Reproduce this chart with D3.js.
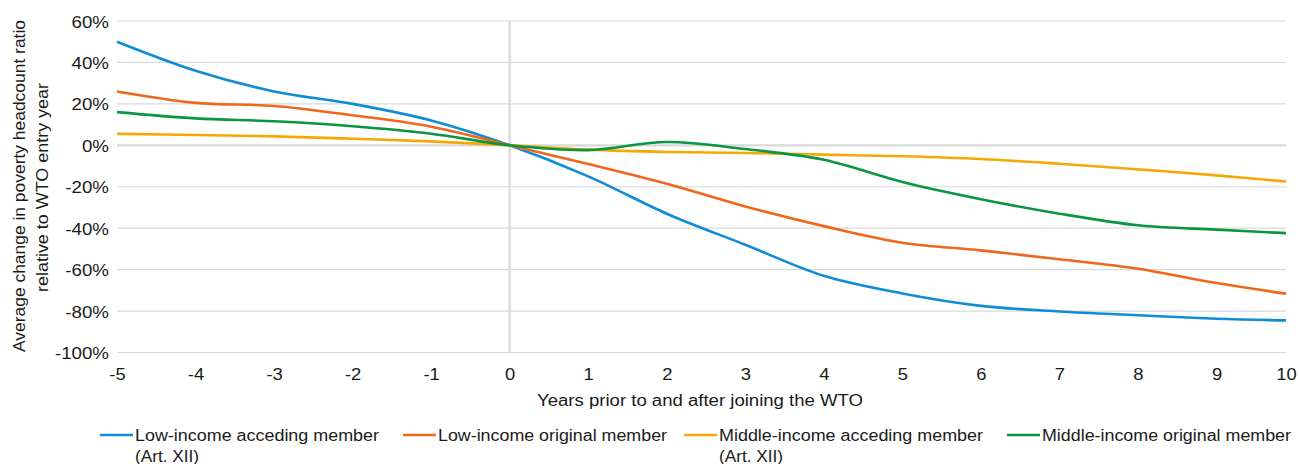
<!DOCTYPE html>
<html>
<head>
<meta charset="utf-8">
<script src="https://cdn.jsdelivr.net/npm/d3@7"></script>
<style>
  html, body { margin: 0; padding: 0; background: #fff; }
  svg { display: block; font-family: "Liberation Sans", Arial, Helvetica, sans-serif; }
</style>
</head>
<body>
<svg id="chart" width="1299" height="464"></svg>
<script>
// ---- data ----
const years = [-5, -4, -3, -2, -1, 0, 1, 2, 3, 4, 5, 6, 7, 8, 9, 10];
const lowIncomeAcceding = [50, 36, 26, 20, 12, 0, -15, -33, -48, -63, -71.5, -77.5, -80.2, -82, -83.7, -84.5];
const lowIncomeOriginal = [26, 20.5, 19, 14.5, 9, 0, -9, -18.5, -29.5, -39, -47, -50.7, -55, -59.6, -66.5, -71.6];
const middleIncomeAcceding = [5.5, 5.0, 4.3, 3.2, 1.9, 0, -2.1, -3.2, -3.7, -4.5, -5.3, -6.6, -8.9, -11.6, -14.5, -17.5];
const middleIncomeOriginal = [16, 13, 11.6, 9.2, 5.6, 0, -2.3, 1.6, -1.8, -7, -17.7, -26, -33, -38.6, -40.7, -42.4];
const yTicks = [60, 40, 20, 0, -20, -40, -60, -80, -100];
const seriesNames = ["Low-income acceding member", "Low-income original member", "Middle-income acceding member", "Middle-income original member"];
const seriesSub = ["(Art. XII)", "", "(Art. XII)", ""];
const seriesColors = ["#0F8CD8", "#F0661A", "#F6A800", "#0A9541"];
const xTitle = "Years prior to and after joining the WTO";
const yTitle = ["Average change in poverty headcount ratio", "relative to WTO entry year"];

const seriesValues = [lowIncomeAcceding, lowIncomeOriginal, middleIncomeAcceding, middleIncomeOriginal];

// ---- layout ----
const svg = d3.select("#chart");
const plotLeft = 117, plotRight = 1286, plotTop = 21, plotBottom = 352.5;
// reference places years -5..9 evenly and compresses the final step to the plot edge
const x = d3.scaleLinear().domain([-5, 9, 10]).range([plotLeft, 1216.5, plotRight]);
const y = d3.scaleLinear().domain([-100, 60]).range([plotBottom, plotTop]);
const textColor = "#1a1a1a";

// gridlines
svg.append("g").selectAll("line").data(yTicks).join("line")
  .attr("x1", plotLeft).attr("x2", plotRight)
  .attr("y1", d => y(d)).attr("y2", d => y(d))
  .attr("stroke", "#d9d9d9")
  .attr("stroke-width", d => d === 0 ? 2.2 : 1.2);

// vertical zero line
svg.append("line")
  .attr("x1", x(0)).attr("x2", x(0))
  .attr("y1", plotTop).attr("y2", plotBottom)
  .attr("stroke", "#d9d9d9").attr("stroke-width", 2.2);

// y axis
const yAxis = d3.axisLeft(y).tickValues(yTicks).tickSize(0).tickPadding(0)
  .tickFormat(d => String(d) + "%");
const gy = svg.append("g").attr("transform", "translate(109,0)").call(yAxis);
gy.select(".domain").remove();
gy.selectAll("text")
  .attr("x", 0).attr("dy", null).attr("y", 6)
  .attr("font-size", 16).attr("font-family", "Liberation Sans, Arial, sans-serif")
  .attr("fill", textColor)
  .attr("transform", "scale(1.17,1)");

// x axis
const xAxis = d3.axisBottom(x).tickValues(years).tickSize(0).tickPadding(0)
  .tickFormat(d => String(d));
const gx = svg.append("g").attr("transform", `translate(0,${plotBottom})`).call(xAxis);
gx.select(".domain").remove();
gx.selectAll("text")
  .attr("dy", null).attr("y", 27.5).attr("x", 0)
  .attr("font-size", 16).attr("font-family", "Liberation Sans, Arial, sans-serif")
  .attr("fill", textColor)
  .attr("transform", "scale(1.15,1)");

// x title
svg.append("text")
  .attr("x", 700).attr("y", 406)
  .attr("text-anchor", "middle")
  .attr("font-size", 16).attr("fill", textColor)
  .attr("textLength", 326).attr("lengthAdjust", "spacingAndGlyphs")
  .text(xTitle);

// y title
const ytG = svg.append("g");
ytG.append("text")
  .attr("transform", "translate(25,186) rotate(-90)")
  .attr("text-anchor", "middle")
  .attr("font-size", 16).attr("fill", textColor)
  .attr("textLength", 332).attr("lengthAdjust", "spacingAndGlyphs")
  .text(yTitle[0]);
ytG.append("text")
  .attr("transform", "translate(47.5,187.5) rotate(-90)")
  .attr("text-anchor", "middle")
  .attr("font-size", 16).attr("fill", textColor)
  .attr("textLength", 209).attr("lengthAdjust", "spacingAndGlyphs")
  .text(yTitle[1]);

// lines
const line = d3.line()
  .x((d, i) => x(years[i]))
  .y(d => y(d))
  .curve(d3.curveCardinal.tension(0));

svg.append("g").selectAll("path").data(seriesValues).join("path")
  .attr("d", d => line(d))
  .attr("fill", "none")
  .attr("stroke", (d, i) => seriesColors[i])
  .attr("stroke-width", 2.6)
  .attr("stroke-linejoin", "round");

// legend
const legendX = [100, 403, 684, 1007];
const legendW = [244, 229, 264, 249];
const lg = svg.append("g");
seriesNames.forEach((name, i) => {
  const g = lg.append("g").attr("transform", `translate(${legendX[i]},0)`);
  g.append("line").attr("x1", 0).attr("x2", 33).attr("y1", 435).attr("y2", 435)
    .attr("stroke", seriesColors[i]).attr("stroke-width", 2.6);
  g.append("text").attr("x", 35).attr("y", 441)
    .attr("font-size", 16).attr("fill", textColor)
    .attr("textLength", legendW[i]).attr("lengthAdjust", "spacingAndGlyphs")
    .text(name);
  if (seriesSub[i]) {
    g.append("text").attr("x", 35).attr("y", 461.5)
      .attr("font-size", 16).attr("fill", textColor)
      .attr("textLength", 64).attr("lengthAdjust", "spacingAndGlyphs")
      .text(seriesSub[i]);
  }
});
</script>
</body>
</html>
